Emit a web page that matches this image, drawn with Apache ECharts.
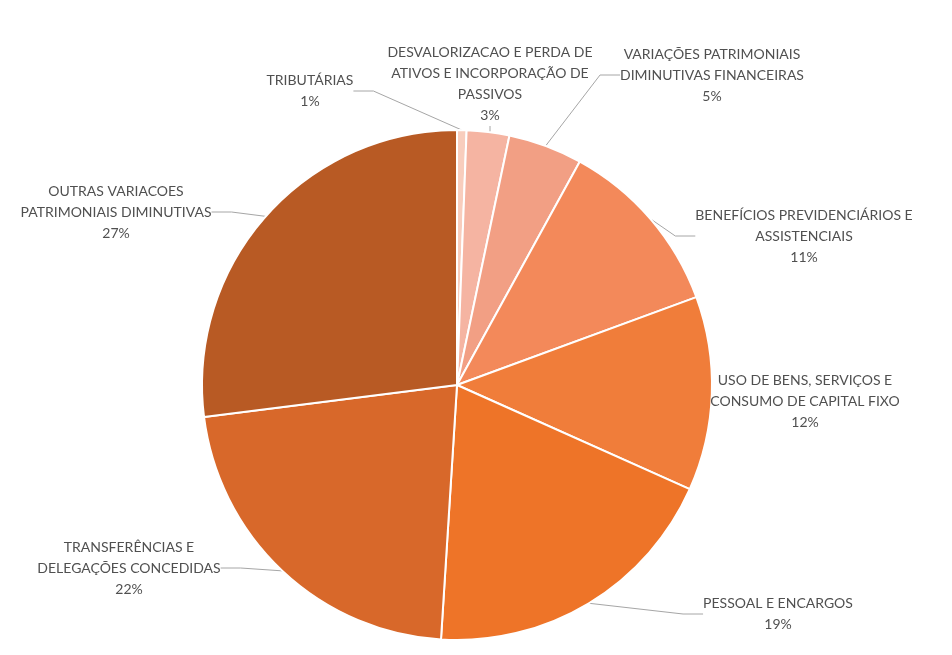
<!DOCTYPE html>
<html>
<head>
<meta charset="utf-8">
<script src="https://cdn.jsdelivr.net/npm/echarts@6/dist/echarts.min.js"></script>
<style>
html,body{margin:0;padding:0;background:#ffffff;}
#chart{width:952px;height:655px;}
</style>
</head>
<body>
<div id="chart"></div>
<script>
// Data
var categories = [
  "TRIBUTÁRIAS",
  "DESVALORIZACAO E PERDA DE\nATIVOS E INCORPORAÇÃO DE\nPASSIVOS",
  "VARIAÇÕES PATRIMONIAIS\nDIMINUTIVAS FINANCEIRAS",
  "BENEFÍCIOS PREVIDENCIÁRIOS E\nASSISTENCIAIS",
  "USO DE BENS, SERVIÇOS E\nCONSUMO DE CAPITAL FIXO",
  "PESSOAL E ENCARGOS",
  "TRANSFERÊNCIAS E\nDELEGAÇÕES CONCEDIDAS",
  "OUTRAS VARIACOES\nPATRIMONIAIS DIMINUTIVAS"
];
var shares = [0.6, 2.7, 4.7, 11.4, 12.3, 19.3, 22.0, 27.0];

// Styling / layout (not data)
var colors = ["#f8cdbd", "#f5b4a2", "#f29f84", "#f3895a", "#f07d3a", "#ee7428", "#d8682a", "#b85a24"];
var labelPos = [
  [310, 91], [490, 84], [712, 75], [804, 236],
  [805, 401], [778, 614], [129, 568], [116, 212]
];

var chart = echarts.init(document.getElementById('chart'), null, {renderer: 'canvas'});
chart.setOption({
  backgroundColor: '#ffffff',
  animation: false,
  color: colors,
  series: [{
    type: 'pie',
    center: [457, 385],
    radius: 255,
    startAngle: 90,
    clockwise: true,
    avoidLabelOverlap: false,
    data: categories.map(function (c, i) { return {name: c, value: shares[i]}; }),
    itemStyle: {borderColor: '#ffffff', borderWidth: 2},
    label: {
      show: true,
      position: 'outside',
      formatter: function (p) { return p.name + '\n' + Math.round(p.percent) + '%'; },
      fontFamily: 'Lato',
      fontSize: 14,
      lineHeight: 21,
      color: '#505050',
      align: 'center'
    },
    labelLine: {
      show: true,
      length: 20,
      length2: 20,
      lineStyle: {color: '#a6a6a6', width: 1}
    },
    labelLayout: function (p) {
      var pos = labelPos[p.dataIndex];
      return {x: pos[0], y: pos[1], align: 'center', verticalAlign: 'middle', hideOverlap: false};
    }
  }]
});
</script>
</body>
</html>
